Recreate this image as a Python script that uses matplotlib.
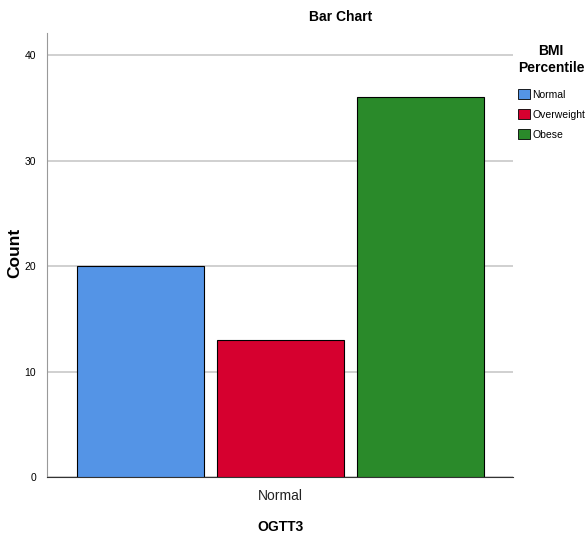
import matplotlib
matplotlib.use("Agg")
from matplotlib import pyplot as plt
from matplotlib.patches import Patch

plt.rcParams['font.family'] = ['Liberation Sans', 'DejaVu Sans']

# data
groups = ["Normal", "Overweight", "Obese"]
counts = [20, 13, 36]
colors = ["#5494e6", "#d6002f", "#2a8a2a"]
category = "Normal"

fig = plt.figure(figsize=(5.85, 5.42), dpi=100)
ax = fig.add_axes([47/585, 1-477/542, (513-47)/585, (477-33)/542])

pos = [-1, 0, 1]
ax.bar(pos, counts, width=0.907, color=colors, edgecolor="black", linewidth=0.8, zorder=3)

ax.set_xlim(-1.668, 1.661)
ax.set_ylim(0, 42.1)
ax.set_yticks([0, 10, 20, 30, 40])
ax.set_xticks([0])
ax.set_xticklabels([category], fontsize=10, color="#222222")
ax.tick_params(axis="y", length=0, pad=8, labelsize=7.5)
ax.tick_params(axis="x", length=0, pad=9)
ax.yaxis.grid(True, color="#c8c8c8", linewidth=1.2, zorder=0)

for s in ["top", "right"]:
    ax.spines[s].set_visible(False)
ax.spines["left"].set_color("#999999")
ax.spines["bottom"].set_color("#333333")

fig.text(15/585, 1-253/542, "Count", rotation=90, ha="center", va="center",
         fontsize=12.5, fontweight="bold")
fig.text(280/585, 1-527/542, "OGTT3", ha="center", va="center",
         fontsize=10, fontweight="bold")
fig.text(341/585, 1-17/542, "Bar Chart", ha="center", va="center",
         fontsize=10, fontweight="bold")

# legend title drawn as text, items below it
fig.text(551/585, 1-51/542, "BMI", ha="center", va="center", fontsize=10, fontweight="bold")
fig.text(551/585, 1-68/542, "Percentile", ha="center", va="center", fontsize=10, fontweight="bold")

handles = [Patch(facecolor=c, edgecolor="black", linewidth=0.6) for c in colors]
leg = fig.legend(handles, groups, loc="upper left", bbox_to_anchor=(518/585, 1-89/542),
                 frameon=False, fontsize=7.5,
                 handlelength=1.15, handleheight=1.15, handletextpad=0.2,
                 labelspacing=0.9, borderaxespad=0, borderpad=0)

fig.savefig("out.png", dpi=100)
